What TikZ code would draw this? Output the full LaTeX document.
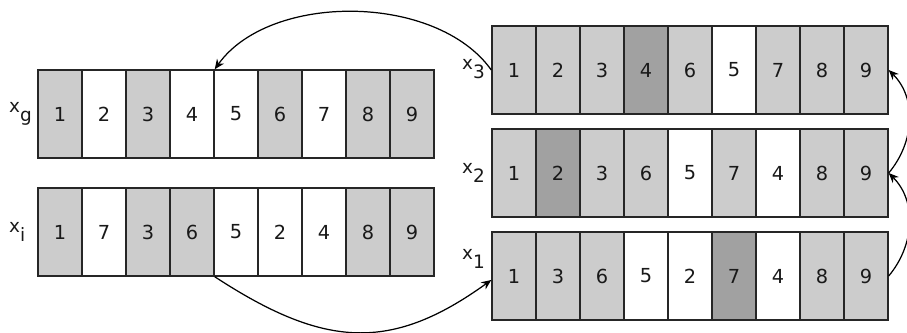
\documentclass[tikz,border=0pt]{standalone}
\usepackage{fontspec}
\setmainfont{DejaVu Sans}
\usetikzlibrary{positioning, arrows.meta}
\colorlet{cl}{black!20}
\colorlet{cw}{white}
\colorlet{cd}{black!37}
\tikzset{
  % permutation rows
  cell/.style   = { draw=black!85, line width=0.8pt, minimum width=0.88cm,
                    minimum height=1.76cm, inner sep=0, text=black!90,
                    font=\fontsize{11}{13}\selectfont },
  rowlab/.style = { font=\fontsize{10.5}{12}\selectfont, inner sep=0, text=black!90 },
  % moves between rows
  swap/.style   = { line width=0.7pt, -{Stealth[length=2mm, width=1.7mm]} }
}
\newcommand{\rowlabel}[1]{x\raisebox{-5pt}{#1}}

\begin{document}
\begin{tikzpicture}[x=0.02cm, y=-0.02cm]
  \clip (0,0) rectangle (907,333);

  % --- left: x_g and x_i ---------------------------------------------
  \foreach \v/\f [count=\k] in {1/cl,2/cw,3/cl,4/cw,5/cw,6/cl,7/cw,8/cl,9/cl}
    \node[cell, fill=\f] (g\k) at (16+44*\k, 114) {\v};
  \foreach \v/\f [count=\k] in {1/cl,7/cw,3/cl,6/cl,5/cw,2/cw,4/cw,8/cl,9/cl}
    \node[cell, fill=\f] (i\k) at (16+44*\k, 232) {\v};

  \node[rowlab, anchor=west] (lg) at ([xshift=-0.57cm]g1.west) {\rowlabel{g}};
  \node[rowlab, anchor=west] (li) at ([xshift=-0.57cm]i1.west) {\rowlabel{i}};

  % --- right: x_3, x_2, x_1 -------------------------------------------
  \foreach \v/\f [count=\k] in {1/cl,2/cl,3/cl,4/cd,6/cl,5/cw,7/cl,8/cl,9/cl}
    \node[cell, fill=\f] (c\k) at (470+44*\k, 70) {\v};
  \foreach \v/\f [count=\k] in {1/cl,2/cd,3/cl,6/cl,5/cw,7/cl,4/cw,8/cl,9/cl}
    \node[cell, fill=\f] (b\k) at (470+44*\k, 173) {\v};
  \foreach \v/\f [count=\k] in {1/cl,3/cl,6/cl,5/cw,2/cw,7/cd,4/cw,8/cl,9/cl}
    \node[cell, fill=\f] (a\k) at (470+44*\k, 276) {\v};

  \node[rowlab, anchor=west] (l3) at ([xshift=-0.59cm, yshift=0.02cm]c1.west) {\rowlabel{3}};
  \node[rowlab, anchor=west] (l2) at ([xshift=-0.59cm]b1.west) {\rowlabel{2}};
  \node[rowlab, anchor=west] (l1) at ([xshift=-0.59cm, yshift=0.34cm]a1.west) {\rowlabel{1}};

  % arcs
  \draw[swap] (c1.west) .. controls +(-55,-77) and +(55,-77) .. (g4.north east);
  \draw[swap] (i4.south east) .. controls +(110,72) and +(-100,72) .. ([yshift=-0.08cm]a1.west);
  \draw[swap] (a9.east) to[out=50, in=-45] (b9.east);
  \draw[swap] (b9.east) to[out=50, in=-45] (c9.east);
\end{tikzpicture}
\end{document}
